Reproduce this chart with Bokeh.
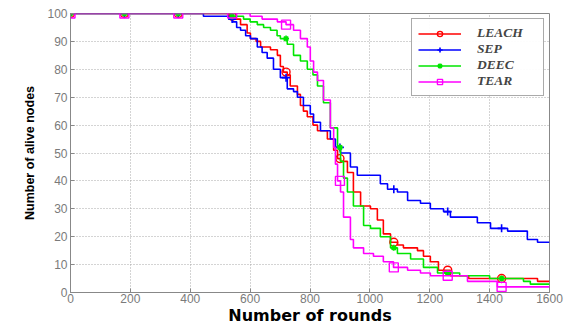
import numpy as np
from bokeh.plotting import figure
from bokeh.models import Legend, LegendItem, Range1d, FixedTicker
from bokeh.embed import file_html
from bokeh.resources import INLINE

# ---- data (rounds, alive nodes) ----
leach_x = [0, 530, 545, 568, 590, 601, 620, 635, 668, 691, 701, 711, 724, 734, 758, 768, 778, 791, 810, 825,
           858, 879, 892, 902, 925, 945, 969, 1002, 1025, 1045, 1069, 1092, 1112, 1159, 1179, 1202, 1229, 1269, 1330, 1560, 1600]
leach_y = [100, 99, 98, 96, 93, 91, 90, 88, 87, 85, 81, 79, 78, 74, 71, 67, 65, 63, 60, 58,
           55, 51, 48, 47, 43, 36, 31, 30, 26, 21, 18, 17, 16, 15, 13, 11, 8, 6, 5, 4, 4]

sep_x = [0, 444, 530, 541, 555, 568, 585, 601, 624, 640, 657, 678, 701, 724, 745, 758, 778, 801, 812, 835,
         868, 885, 902, 935, 958, 1035, 1059, 1092, 1126, 1169, 1202, 1246, 1269, 1359, 1403, 1460, 1526, 1560, 1600]
sep_y = [100, 99, 98, 97, 95, 94, 92, 91, 88, 86, 84, 80, 77, 73, 72, 70, 67, 64, 61, 58,
         55, 52, 50, 45, 42, 39, 37, 36, 33, 32, 30, 29, 27, 25, 23, 22, 19, 18, 18]

deec_x = [0, 540, 578, 600, 624, 645, 668, 690, 701, 724, 745, 768, 791, 810, 825, 845, 868, 892, 902, 912,
          925, 945, 979, 1002, 1035, 1069, 1092, 1136, 1179, 1226, 1300, 1400, 1513, 1536, 1600]
deec_y = [100, 99, 98, 97, 96, 95, 94, 92, 91, 89, 85, 83, 80, 78, 74, 68, 59, 52, 47, 41,
          36, 31, 24, 23, 20, 16, 14, 12, 9, 7, 6, 5, 4, 3, 3]

tear_x = [0, 600, 640, 691, 720, 745, 768, 791, 801, 812, 825, 845, 868, 879, 885, 892, 902, 912, 935, 945,
          979, 1012, 1045, 1079, 1126, 1169, 1202, 1326, 1426, 1600]
tear_y = [100, 99, 98, 97, 96, 94, 91, 88, 83, 79, 76, 69, 59, 52, 46, 40, 36, 27, 19, 16,
          14, 13, 11, 9, 8, 7, 6, 4, 2, 2]

marker_rounds = [0, 180, 360, 540, 720, 900, 1080, 1260, 1440]
x_ticks = [0, 200, 400, 600, 800, 1000, 1200, 1400, 1600]
y_ticks = [0, 10, 20, 30, 40, 50, 60, 70, 80, 90, 100]

series = [
    ("LEACH", leach_x, leach_y, "#ff0000", "circle", 8),
    ("SEP", sep_x, sep_y, "#0000ff", "cross", 8),
    ("DEEC", deec_x, deec_y, "#00e600", "asterisk", 6),
    ("TEAR", tear_x, tear_y, "#ff00ff", "square", 9),
]


def step_value(xs, ys, xq):
    xs = np.asarray(xs)
    idx = np.searchsorted(xs, xq, side="right") - 1
    return [ys[i] for i in idx]


p = figure(width=570, height=327, output_backend="svg", toolbar_location=None,
           x_range=Range1d(0, 1600), y_range=Range1d(0, 100),
           min_border_left=70, min_border_right=21, min_border_top=13, min_border_bottom=34,
           background_fill_color="white", border_fill_color="white")

p.outline_line_color = "#888888"

for ax in (p.xaxis[0], p.yaxis[0]):
    ax.axis_line_color = "#888888"
    ax.major_tick_line_color = "#888888"
    ax.major_tick_in = 4
    ax.major_tick_out = 0
    ax.minor_tick_line_color = None
    ax.major_label_text_font = "Liberation Sans"
    ax.major_label_text_font_size = "12px"
    ax.major_label_text_color = "#7a7a7a"
    ax.axis_label_text_color = "black"
    ax.axis_label_text_font_style = "bold"

p.xaxis.ticker = FixedTicker(ticks=x_ticks)
p.yaxis.ticker = FixedTicker(ticks=y_ticks)
p.xaxis.axis_label = "Number of rounds"
p.xaxis.axis_label_text_font = "DejaVu Sans"
p.xaxis.axis_label_text_font_size = "16px"
p.xaxis.axis_label_standoff = 0
p.xaxis.major_label_standoff = 1
p.yaxis.axis_label = "Number of alive nodes"
p.yaxis.axis_label_text_font = "Liberation Sans"
p.yaxis.axis_label_text_font_size = "12.5px"
p.yaxis.axis_label_standoff = 7
p.yaxis.major_label_standoff = 3

p.xgrid.grid_line_color = "#a8a8a8"
p.ygrid.grid_line_color = "#a8a8a8"
p.xgrid.grid_line_dash = "1 2"
p.ygrid.grid_line_dash = "1 2"

items = []
for name, xs, ys, color, marker, size in series:
    r_line = p.step(xs, ys, mode="after", line_color=color, line_width=1.6)
    my = step_value(xs, ys, marker_rounds)
    if marker in ("cross", "asterisk"):
        r_mk = p.scatter(marker_rounds, my, marker=marker, size=size, line_color=color, line_width=1.6)
    else:
        r_mk = p.scatter(marker_rounds, my, marker=marker, size=size, line_color=color,
                         fill_color=None, line_width=1.4)
    items.append(LegendItem(label=name, renderers=[r_line, r_mk]))

legend = Legend(items=items, location="top_right",
                label_text_font="Liberation Serif", label_text_font_style="bold italic",
                label_text_font_size="13.5px", glyph_width=43, glyph_height=13,
                label_height=13, label_width=60, label_text_line_height=1.0,
                label_standoff=16, spacing=0, padding=6, margin=5,
                border_line_color="#555555", background_fill_color="white")
p.add_layout(legend)

open("out.html", "w").write(file_html(p, INLINE))
